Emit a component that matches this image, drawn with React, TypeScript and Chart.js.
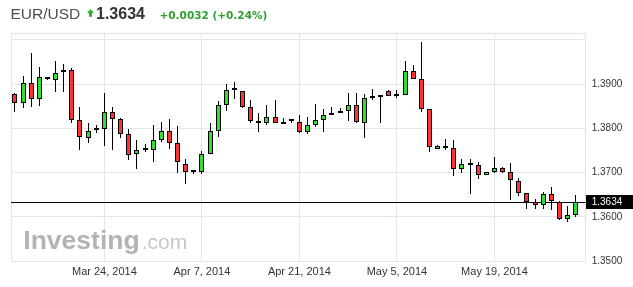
import React, { useEffect, useRef } from 'react';
import { Chart, registerables } from 'chart.js';

Chart.register(...registerables);

// ---- data ----
const dates = [
  '2014-03-11', '2014-03-12', '2014-03-13', '2014-03-14', '2014-03-16', '2014-03-17',
  '2014-03-18', '2014-03-19', '2014-03-20', '2014-03-21', '2014-03-23', '2014-03-24',
  '2014-03-25', '2014-03-26', '2014-03-27', '2014-03-28', '2014-03-30', '2014-03-31',
  '2014-04-01', '2014-04-02', '2014-04-03', '2014-04-04', '2014-04-06', '2014-04-07',
  '2014-04-08', '2014-04-09', '2014-04-10', '2014-04-11', '2014-04-13', '2014-04-14',
  '2014-04-15', '2014-04-16', '2014-04-17', '2014-04-18', '2014-04-20', '2014-04-21',
  '2014-04-22', '2014-04-23', '2014-04-24', '2014-04-25', '2014-04-27', '2014-04-28',
  '2014-04-29', '2014-04-30', '2014-05-01', '2014-05-02', '2014-05-04', '2014-05-05',
  '2014-05-06', '2014-05-07', '2014-05-08', '2014-05-09', '2014-05-11', '2014-05-12',
  '2014-05-13', '2014-05-14', '2014-05-15', '2014-05-16', '2014-05-18', '2014-05-19',
  '2014-05-20', '2014-05-21', '2014-05-22', '2014-05-23', '2014-05-25', '2014-05-26',
  '2014-05-27', '2014-05-28', '2014-05-29', '2014-05-30',
];

const openPrices = [
  1.3878, 1.3857, 1.3903, 1.3866, 1.3911, 1.3910, 1.3927, 1.3931, 1.3818, 1.3779,
  1.3797, 1.3798, 1.3837, 1.3821, 1.3786, 1.3741, 1.3752, 1.3752, 1.3773, 1.3793,
  1.3766, 1.3720, 1.3702, 1.3702, 1.3741, 1.3793, 1.3852, 1.3886, 1.3884, 1.3848,
  1.3816, 1.3811, 1.3825, 1.3811, 1.3816, 1.3814, 1.3791, 1.3807, 1.3818, 1.3830,
  1.3834, 1.3839, 1.3852, 1.3813, 1.3870, 1.3871, 1.3884, 1.3874, 1.3875, 1.3929,
  1.3911, 1.3843, 1.3753, 1.3760, 1.3755, 1.3707, 1.3718, 1.3716, 1.3694, 1.3701,
  1.3711, 1.3702, 1.3681, 1.3654, 1.3633, 1.3627, 1.3651, 1.3634, 1.3594, 1.3604,
];
const highPrices = [
  1.3879, 1.3918, 1.3970, 1.3938, 1.3916, 1.3952, 1.3945, 1.3936, 1.3847, 1.3811,
  1.3807, 1.3879, 1.3849, 1.3824, 1.3798, 1.3773, 1.3764, 1.3807, 1.3814, 1.3820,
  1.3805, 1.3730, 1.3702, 1.3748, 1.3812, 1.3862, 1.3900, 1.3905, 1.3884, 1.3864,
  1.3835, 1.3853, 1.3864, 1.3823, 1.3820, 1.3830, 1.3825, 1.3855, 1.3844, 1.3849,
  1.3846, 1.3880, 1.3880, 1.3878, 1.3889, 1.3871, 1.3887, 1.3887, 1.3953, 1.3942,
  1.3996, 1.3843, 1.3762, 1.3775, 1.3773, 1.3730, 1.3731, 1.3724, 1.3702, 1.3734,
  1.3713, 1.3722, 1.3687, 1.3654, 1.3641, 1.3656, 1.3667, 1.3636, 1.3625, 1.3650,
];
const lowPrices = [
  1.3836, 1.3845, 1.3847, 1.3850, 1.3908, 1.3882, 1.3882, 1.3811, 1.3751, 1.3767,
  1.3790, 1.3761, 1.3750, 1.3778, 1.3729, 1.3707, 1.3746, 1.3724, 1.3770, 1.3754,
  1.3700, 1.3675, 1.3697, 1.3697, 1.3741, 1.3781, 1.3838, 1.3866, 1.3845, 1.3811,
  1.3792, 1.3807, 1.3811, 1.3809, 1.3813, 1.3789, 1.3786, 1.3802, 1.3792, 1.3830,
  1.3834, 1.3817, 1.3811, 1.3779, 1.3864, 1.3813, 1.3873, 1.3869, 1.3875, 1.3911,
  1.3836, 1.3747, 1.3753, 1.3750, 1.3691, 1.3699, 1.3651, 1.3686, 1.3694, 1.3699,
  1.3700, 1.3637, 1.3647, 1.3618, 1.3618, 1.3618, 1.3615, 1.3592, 1.3589, 1.3600,
];
const closePrices = [
  1.3857, 1.3903, 1.3866, 1.3917, 1.3912, 1.3926, 1.3931, 1.3818, 1.3780, 1.3793,
  1.3797, 1.3837, 1.3821, 1.3786, 1.3740, 1.3752, 1.3752, 1.3773, 1.3793, 1.3766,
  1.3723, 1.3702, 1.3702, 1.3741, 1.3793, 1.3852, 1.3886, 1.3886, 1.3848, 1.3816,
  1.3811, 1.3825, 1.3811, 1.3809, 1.3816, 1.3791, 1.3807, 1.3818, 1.3829, 1.3834,
  1.3839, 1.3852, 1.3814, 1.3869, 1.3869, 1.3871, 1.3873, 1.3874, 1.3929, 1.3911,
  1.3843, 1.3758, 1.3760, 1.3755, 1.3707, 1.3719, 1.3718, 1.3694, 1.3702, 1.3711,
  1.3702, 1.3683, 1.3654, 1.3633, 1.3627, 1.3651, 1.3635, 1.3594, 1.3605, 1.3634,
];

const xTickDates = ['2014-03-24', '2014-04-07', '2014-04-21', '2014-05-05', '2014-05-19'];
const xTickLabels = ['Mar 24, 2014', 'Apr 7, 2014', 'Apr 21, 2014', 'May 5, 2014', 'May 19, 2014'];
const yTickValues = [1.35, 1.36, 1.37, 1.38, 1.39, 1.40];
const yTickLabels = ['1.3500', '1.3600', '1.3700', '1.3800', '1.3900', ''];

const symbolName = 'EUR/USD';
const lastPrice = 1.3634;
const lastPriceLabel = '1.3634';
const changeLabel = '+0.0032 (+0.24%)';
const watermarkMain = 'Investing';
const watermarkSuffix = '.com';

// ---- styles ----
const UP_COLOR = '#30e030';
const DOWN_COLOR = '#ff3333';
const GRID_COLOR = '#e4e4ec';
const AXIS_FONT = 'Liberation Sans, Arial, sans-serif';

export default function App() {
  const canvasRef = useRef<HTMLCanvasElement | null>(null);

  useEffect(() => {
    const canvas = canvasRef.current;
    if (!canvas) return;

    const bodyColors = dates.map((_, i) => (closePrices[i] >= openPrices[i] ? UP_COLOR : DOWN_COLOR));

    const pixelSnap = {
      id: 'pixelSnap',
      beforeDatasetsDraw(chart: any) {
        chart.getSortedVisibleDatasetMetas().forEach((meta: any) => {
          meta.data.forEach((el: any) => {
            el.x = Math.floor(el.x) + 0.5;
            el.y = Math.round(el.y);
            el.base = Math.round(el.base);
          });
        });
      },
    };

    const frameAndPrice = {
      id: 'frameAndPrice',
      beforeDatasetsDraw(chart: any) {
        const { ctx, chartArea } = chart;
        const yScale = chart.scales.y;
        ctx.save();
        ctx.strokeStyle = GRID_COLOR;
        ctx.lineWidth = 1;
        const l = Math.round(chartArea.left) + 0.5;
        const t = Math.round(chartArea.top) + 0.5;
        const r = Math.floor(chartArea.right) + 0.5;
        const b = Math.round(chartArea.bottom) + 0.5;
        ctx.strokeRect(l, t, r - l, b - t);
        const py = Math.round(yScale.getPixelForValue(lastPrice)) + 0.5;
        ctx.strokeStyle = '#000';
        ctx.beginPath();
        ctx.moveTo(chartArea.left, py);
        ctx.lineTo(chartArea.right, py);
        ctx.stroke();
        ctx.restore();
      },
      afterDraw(chart: any) {
        const { ctx, chartArea, width } = chart;
        const yScale = chart.scales.y;
        const py = Math.round(yScale.getPixelForValue(lastPrice));
        ctx.save();
        ctx.fillStyle = '#000';
        const x0 = Math.floor(chartArea.right) + 1;
        ctx.fillRect(x0, py - 7, width - x0, 14);
        ctx.fillStyle = '#fff';
        ctx.font = `10px ${AXIS_FONT}`;
        ctx.textBaseline = 'middle';
        ctx.textAlign = 'left';
        ctx.fillText(lastPriceLabel, chartArea.right + 6, py + 0.5);
        ctx.restore();
      },
    };

    const chart = new Chart(canvas, {
      type: 'bar',
      data: {
        datasets: [
          {
            label: 'body',
            data: dates.map((_, i) => ({ x: i, y: [openPrices[i], closePrices[i]] })) as any,
            backgroundColor: bodyColors,
            borderColor: '#000',
            borderWidth: 1,
            borderSkipped: false,
            barThickness: 5,
            minBarLength: 2,
            grouped: false,
            inflateAmount: 0,
            order: 1,
          } as any,
          {
            label: 'wick',
            data: dates.map((_, i) => ({ x: i, y: [lowPrices[i], highPrices[i]] })) as any,
            backgroundColor: '#000',
            borderWidth: 0,
            barThickness: 1,
            grouped: false,
            inflateAmount: 0,
            order: 2,
          } as any,
        ],
      },
      options: {
        animation: false,
        responsive: false,
        maintainAspectRatio: false,
        layout: { padding: { top: 32.7, left: 11, right: 0, bottom: 0 } },
        plugins: {
          legend: { display: false },
          tooltip: { enabled: false },
        },
        scales: {
          x: {
            type: 'linear',
            position: 'bottom',
            min: -0.49,
            max: 70.23,
            offset: false,
            bounds: 'data',
            afterBuildTicks: (s: any) => {
              s.ticks = xTickDates.map((d) => ({ value: dates.indexOf(d) }));
            },
            afterFit: (s: any) => {
              s.height = 26;
            },
            ticks: {
              autoSkip: false,
              maxRotation: 0,
              padding: 4,
              color: '#333',
              font: { family: AXIS_FONT, size: 11 },
              callback: (_v: any, i: number) => xTickLabels[i],
            },
            grid: { color: GRID_COLOR, drawTicks: false, offset: false },
            border: { display: false },
          } as any,
          y: {
            type: 'linear',
            position: 'right',
            min: 1.35,
            max: 1.4016,
            bounds: 'data',
            afterBuildTicks: (s: any) => {
              s.ticks = yTickValues.map((v) => ({ value: v }));
            },
            afterFit: (s: any) => {
              s.width = 47.3;
            },
            ticks: {
              autoSkip: false,
              padding: 6,
              color: '#333',
              font: { family: AXIS_FONT, size: 10 },
              callback: (_v: any, i: number) => yTickLabels[i],
            },
            grid: { color: GRID_COLOR, drawTicks: false },
            border: { display: false },
          } as any,
        },
      },
      plugins: [frameAndPrice, pixelSnap],
    });

    return () => chart.destroy();
  }, []);

  return (
    <div
      style={{
        position: 'fixed',
        left: 0,
        top: 0,
        width: 633,
        height: 287,
        background: '#fff',
        fontFamily: AXIS_FONT,
      }}
    >
      <canvas ref={canvasRef} width={633} height={287} style={{ display: 'block' }} />
      <div
        style={{
          position: 'absolute',
          left: 10.5,
          top: 5.9,
          fontSize: 15.5,
          lineHeight: 1,
          color: '#4d4d4d',
          whiteSpace: 'nowrap',
        }}
      >
        {symbolName}
      </div>
      <svg style={{ position: 'absolute', left: 86.5, top: 8.5 }} width={7} height={8}>
        <polygon points="3.5,0 7,4 0,4" fill="#2db52d" />
        <rect x={2} y={3.8} width={3} height={4} fill="#2db52d" />
      </svg>
      <div
        style={{
          position: 'absolute',
          left: 96,
          top: 5.5,
          fontSize: 16,
          lineHeight: 1,
          fontWeight: 'bold',
          color: '#333',
          whiteSpace: 'nowrap',
        }}
      >
        {lastPriceLabel}
      </div>
      <div
        style={{
          position: 'absolute',
          left: 159.5,
          top: 10.1,
          fontSize: 10.5,
          lineHeight: 1,
          fontWeight: 'bold',
          fontFamily: 'DejaVu Sans, sans-serif',
          color: '#2ca02c',
          whiteSpace: 'nowrap',
        }}
      >
        {changeLabel}
      </div>
      <div
        style={{
          position: 'absolute',
          left: 23.3,
          top: 226.6,
          display: 'flex',
          alignItems: 'baseline',
          whiteSpace: 'nowrap',
        }}
      >
        <span style={{ fontSize: 26.5, lineHeight: 1, fontWeight: 'bold', color: '#b3b3b3' }}>{watermarkMain}</span>
        <span style={{ fontSize: 21, lineHeight: 1, color: '#c6c6c6', marginLeft: 2 }}>{watermarkSuffix}</span>
      </div>
    </div>
  );
}
